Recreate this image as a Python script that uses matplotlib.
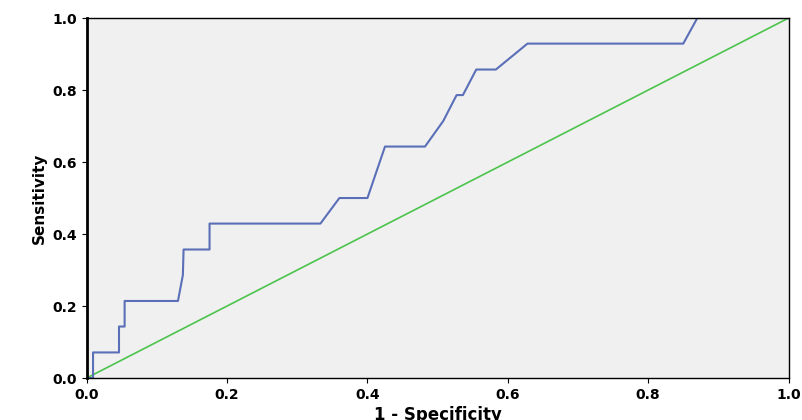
import matplotlib
matplotlib.use("Agg")
import matplotlib.pyplot as plt

# ROC curve (1 - specificity, sensitivity)
fpr = [0.0, 0.009, 0.009, 0.046, 0.046, 0.054, 0.054, 0.130, 0.137, 0.138, 0.175,
       0.175, 0.333, 0.360, 0.400, 0.425, 0.482, 0.508, 0.527, 0.536, 0.555,
       0.583, 0.628, 0.850, 0.870, 1.0]
tpr = [0.0, 0.0, 0.071, 0.071, 0.143, 0.143, 0.214, 0.214, 0.286, 0.357, 0.357,
       0.429, 0.429, 0.500, 0.500, 0.643, 0.643, 0.714, 0.786, 0.786, 0.857,
       0.857, 0.929, 0.929, 1.0, 1.0]
ref = [0.0, 1.0]
ticks = [0.0, 0.2, 0.4, 0.6, 0.8, 1.0]

fig = plt.figure(figsize=(8.03, 4.20), dpi=100)
ax = fig.add_axes([0.108, 0.10, 0.874, 0.857])
ax.set_facecolor("#f0f0f0")
ax.plot(ref, ref, color="#4cc44c", linewidth=1.2)
ax.plot(fpr, tpr, color="#5b6fb8", linewidth=1.5)
ax.set_xlim(0, 1)
ax.set_ylim(0, 1)
ax.set_xticks(ticks)
ax.set_yticks(ticks)
ax.set_xticklabels([f"{t:.1f}" for t in ticks], fontweight="bold", fontsize=10)
ax.set_yticklabels([f"{t:.1f}" for t in ticks], fontweight="bold", fontsize=10)
ax.set_xlabel("1 - Specificity", fontweight="bold", fontsize=12, labelpad=3)
ax.set_ylabel("Sensitivity", fontweight="bold", fontsize=11)
for s in ax.spines.values():
    s.set_linewidth(1.0)
ax.spines["left"].set_linewidth(2.0)
fig.savefig("out.png", dpi=100)
